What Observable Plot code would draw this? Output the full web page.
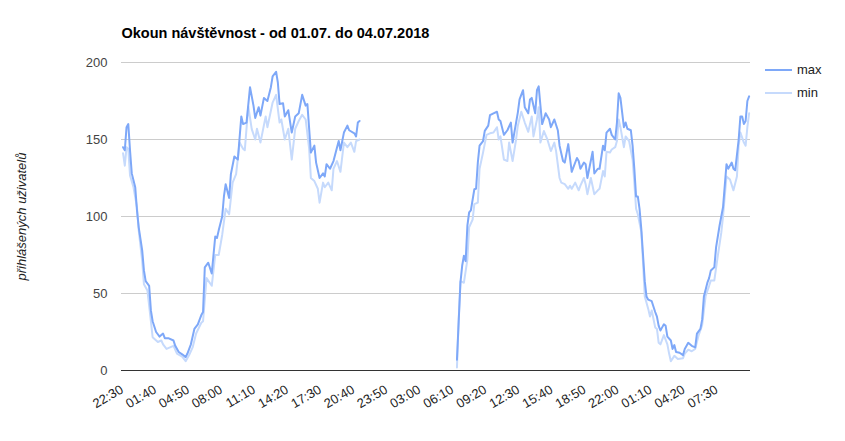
<!DOCTYPE html>
<html>
<head>
<meta charset="utf-8">
<script src="https://cdn.jsdelivr.net/npm/d3@7"></script>
<script src="https://cdn.jsdelivr.net/npm/@observablehq/plot@0.6"></script>
<style>
  body { margin: 0; background: #fff; font-family: Arial, "Liberation Sans", sans-serif; }
  #wrap { position: relative; width: 845px; height: 441px; }
  #legend { position: absolute; left: 765px; top: 58px; font-size: 13px; color: #222; }
  #legend .row { display: flex; align-items: center; height: 23px; }
  #legend .sw { width: 27px; height: 2px; margin-right: 5px; }
</style>
</head>
<body>
<div id="wrap"><div id="legend"></div></div>
<script>
// Title / labels
const title = "Okoun návštěvnost - od 01.07. do 04.07.2018";
const yLabel = "přihlášených uživatelů";
const seriesNames = ["max", "min"];
const seriesColors = ["#7ea8f8", "#c6dafc"];

// x tick labels, one every 190 minutes from the first sample (22:30)
const tickLabels = ["22:30","01:40","04:50","08:00","11:10","14:20","17:30","20:40","23:50","03:00","06:10","09:20","12:30","15:40","18:50","22:00","01:10","04:20","07:30"];
const tickStepMin = 190;
const yTicks = [0, 50, 100, 150, 200];

// minutes since 22:30 on the first day
const maxT = [0,10,20,30,40,50,70,80,90,110,120,130,150,160,170,190,210,230,240,260,290,300,320,340,360,370,390,410,430,450,460,470,490,510,530,540,550,570,580,590,610,620,640,660,680,690,710,730,750,760,780,790,810,830,850,860,880,890,900,920,930,950,970,990,1010,1030,1050,1060,1080,1100,1110,1130,1150,1160,1170,1190,1210,1240,1250,1270,1290,1300,1330,1340,1350,1360,
1920,1940,1950,1960,1970,1980,1990,2000,2020,2030,2040,2050,2070,2080,2100,2110,2130,2150,2160,2170,2190,2210,2230,2240,2260,2270,2280,2300,2310,2330,2340,2350,2370,2380,2390,2400,2410,2430,2450,2460,2480,2500,2510,2530,2540,2560,2580,2590,2610,2620,2630,2650,2660,2670,2700,2710,2730,2740,2760,2770,2780,2800,2810,2830,2840,2850,2860,2880,2890,2900,2920,2930,2940,2950,2960,2970,2980,2990,3000,3010,3020,3040,3060,3070,3080,3090,3100,3110,3120,3130,3150,3160,3170,3180,3200,3220,3230,3250,3270,3290,3300,3320,3330,3340,3360,3370,3380,3400,3410,3430,3440,3450,3470,3480,3500,3510,3520,3540,3550,3560,3570,3580,3590,3600];
const maxV = [145,143,158,160,143,128,119,104,93,78,65,58,55,39,32,25,22,24,21,21,19.5,16,12,10.5,8.7,11,17,27,30,36,38,67,70,63,87,86,91,100,113,121,112,127.5,139,137,165,160,161,184,172,164,171,165.5,177,175,184,191,194,187,173,173.5,165,169,154.5,165,167,179,172,173,141.5,146,135,125,128,126,134,131,136,149,143,154.5,159,156,154,152,161,162,
7,57,68,74.5,71,94,102.6,104,117.7,118,135,146,149,155.6,159,165.8,167,168,163,162,153,156,161,148,161,167.5,176,182,171,167,176,177,167,182,184.5,172,160,167,163,158,163,156,146,136,135,147,129,132,138,136,131,135,134,125,142,128,131,131,146,143,154.5,157,153,150,161,180,177,158,161,157,156,146,131,113,113,105,92,75,58,48,46,45,38,35,29,26,28,30,29,22,19.5,14,16.5,12,11.5,10,14,18,16,15,24,27,33,48,57,60,65,67,80,94,100,106,134,131,135,131,130,150,165,165,160,162,175,178];

const minT = [0,10,20,30,40,60,80,90,110,120,140,160,170,200,220,230,250,270,290,310,340,360,380,400,420,450,460,480,510,530,550,570,590,610,630,650,670,690,700,720,740,760,770,790,820,830,860,880,900,910,930,950,970,990,1010,1030,1050,1070,1080,1100,1120,1130,1150,1160,1180,1200,1210,1230,1250,1270,1290,1310,1330,1340,1360,
1920,1930,1940,1960,1980,1990,2010,2020,2040,2050,2070,2090,2110,2130,2150,2160,2170,2190,2210,2220,2240,2260,2270,2290,2310,2330,2350,2360,2380,2390,2400,2420,2440,2460,2480,2490,2510,2520,2540,2560,2570,2580,2600,2620,2630,2650,2660,2670,2690,2710,2730,2740,2760,2770,2780,2800,2810,2830,2840,2850,2860,2880,2890,2910,2930,2940,2950,2960,2980,2990,3000,3020,3030,3040,3060,3070,3080,3090,3110,3130,3140,3150,3170,3190,3220,3230,3250,3270,3290,3310,3330,3350,3370,3380,3400,3420,3440,3450,3470,3490,3510,3530,3540,3550,3570,3580,3590,3600];
const minV = [141,133,145,144,126.6,119,106,91,71,56,52,32,21.6,18.5,19.5,17,14,15,16,11,9,6,10,15,24,31,32,60,55,75,75,88,105,101.5,122,127.5,148,144,143,171.5,156.7,150,157,148,165,158,174,179,161,163,150,157,137,157,162,166,163,144,125,123,118,109,122,119,122,117,131,136,129,148,145,148,142,149,150,
2,33,58,57,72,93,98,108,109,131,141.5,153,154,154.5,158,150,152,137,136,148,136,150,159,168,161,155,165,152,163,171,148,155.5,150,142.5,148,142.5,125,122,121,118,120,118,122,117,120,125,121,114.5,125,114.5,117,118,129.5,126,142,141.5,143.5,145,149,163,158,145,152,149,137,122,105,101.5,90,70,48,40,35,39,28,27,18,17,23,17,11,6,9.5,7.5,8,11,13.5,12.5,14,23,29.5,48.5,55,58.5,58.5,74.5,89.5,100,126,124,117,126,146,154.5,148,146,158,167];

// data are missing between these two times (line is broken there)
const gapFrom = 1360, gapTo = 1920;

const toRows = (T, V) => T.map((t, i) => ({t, v: V[i], seg: t <= gapFrom ? 0 : 1}));
const rowsMax = toRows(maxT, maxV);
const rowsMin = toRows(minT, minV);
const ticks = tickLabels.map((label, i) => ({t: i * tickStepMin, label}));

const chart = Plot.plot({
  width: 845,
  height: 441,
  marginLeft: 121,
  marginRight: 95,
  marginTop: 62,
  marginBottom: 71,
  style: {fontFamily: "Arial, 'Liberation Sans', sans-serif", fontSize: "13px", background: "#fff"},
  x: {type: "linear", domain: [-9, 3608], axis: null},
  y: {domain: [0, 200], axis: null},
  marks: [
    Plot.gridY(yTicks, {stroke: "#cccccc", strokeOpacity: 1}),
    Plot.axisY(yTicks, {tickSize: 0, tickPadding: 14, fill: "#444", fontSize: 13, label: null}),
    Plot.ruleY([0], {stroke: "#333", strokeWidth: 1}),
    Plot.line(rowsMin, {x: "t", y: "v", z: "seg", stroke: seriesColors[1], strokeWidth: 2, curve: "linear"}),
    Plot.line(rowsMax, {x: "t", y: "v", z: "seg", stroke: seriesColors[0], strokeWidth: 2, curve: "linear"}),
    Plot.text(ticks, {x: "t", y: () => 0, text: "label", rotate: -30, textAnchor: "end", lineAnchor: "middle", dx: -1, dy: 18, fill: "#222", fontSize: 13}),
    Plot.text([title], {frameAnchor: "top-left", dx: 0, dy: -25, lineAnchor: "bottom", textAnchor: "start", fontWeight: "bold", fontSize: 14.5, fill: "#000"}),
    Plot.text([yLabel], {frameAnchor: "left", dx: -100, rotate: -90, textAnchor: "middle", lineAnchor: "middle", fontStyle: "italic", fontSize: 13, fill: "#222"})
  ]
});
document.getElementById("wrap").prepend(chart);

const legend = document.getElementById("legend");
seriesNames.forEach((name, i) => {
  const row = document.createElement("div");
  row.className = "row";
  const sw = document.createElement("div");
  sw.className = "sw";
  sw.style.background = seriesColors[i];
  const tx = document.createElement("span");
  tx.textContent = name;
  row.append(sw, tx);
  legend.append(row);
});
</script>
</body>
</html>
